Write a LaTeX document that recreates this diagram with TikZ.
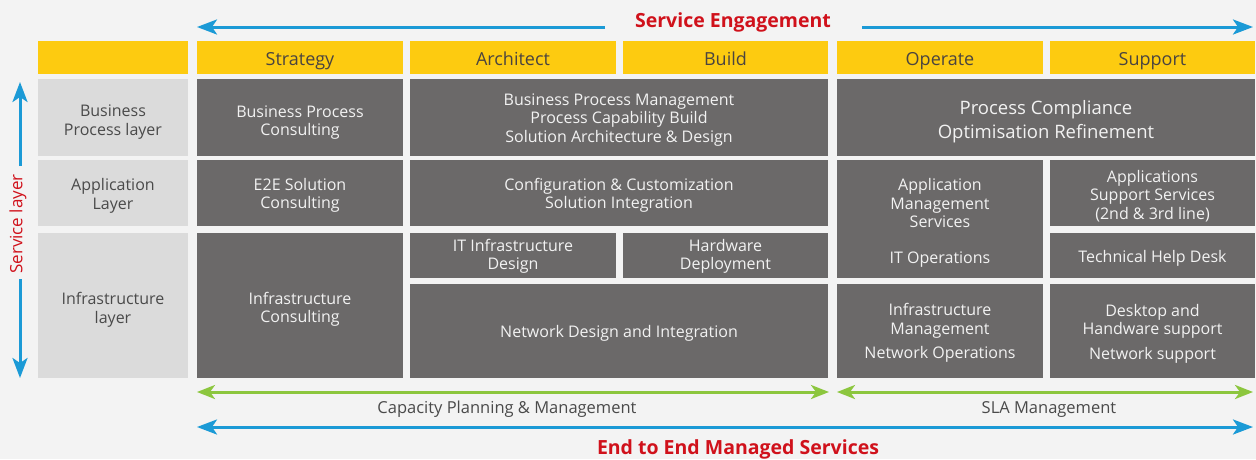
\documentclass[tikz,border=0pt]{standalone}
\usepackage{fontspec}
\setmainfont{Open Sans}
\usetikzlibrary{arrows.meta}
\definecolor{bg}{HTML}{F3F3F3}
\definecolor{yel}{HTML}{FDCB10}
\definecolor{dkg}{HTML}{6B6969}
\definecolor{lgy}{HTML}{DBDBDB}
\definecolor{hdtext}{HTML}{4A4440}
\definecolor{lbtext}{HTML}{4A4A4A}
\definecolor{dktext}{HTML}{F2F2F2}
\definecolor{blu}{HTML}{1B9AD6}
\definecolor{grn}{HTML}{8CC63E}
\definecolor{red}{HTML}{D0111B}
\newcommand\dn[1]{\rule{0pt}{#1pt}}
\begin{document}
\begin{tikzpicture}[x=1pt,y=-1pt,
  cell/.style={anchor=north west, inner sep=0pt, outer sep=0pt, align=center},
  hd/.style={cell, fill=yel, text=hdtext, font=\fontsize{18}{21}\selectfont, text height=16.5pt, text depth=0pt},
  lb/.style={cell, fill=lgy, text=lbtext, font=\fontsize{16}{19}\selectfont},
  dk/.style={cell, fill=dkg, text=dktext, font=\fontsize{16}{18.5}\selectfont},
  dkbig/.style={cell, fill=dkg, text=dktext, font=\fontsize{18.5}{24.5}\selectfont},
  bluearr/.style={draw=blu, line width=3pt, -{Stealth[length=20pt,width=15pt,inset=5pt]}},
  bluedbl/.style={draw=blu, line width=3pt, {Stealth[length=20pt,width=15pt,inset=5pt]}-{Stealth[length=20pt,width=15pt,inset=5pt]}},
  grndbl/.style={draw=grn, line width=3pt, {Stealth[length=18pt,width=14pt,inset=5pt]}-{Stealth[length=18pt,width=14pt,inset=5pt]}},
  redlbl/.style={text=red, font=\fontsize{19.5}{23}\selectfont\bfseries, inner sep=0pt},
  botlbl/.style={text=lbtext, font=\fontsize{16.5}{19}\selectfont, inner sep=0pt}
]
\useasboundingbox (0,0) rectangle (1256,459);
\fill[bg] (0,0) rectangle (1256,459);

% header row
\node[hd, minimum width=150pt, minimum height=33pt] (h0) at (38,41) {};
\node[hd, minimum width=206pt, minimum height=33pt] (hS) at (197,41) {Strategy};
\node[hd, minimum width=206pt, minimum height=33pt] (hA) at (410,41) {Architect};
\node[hd, minimum width=205pt, minimum height=33pt] (hB) at (623,41) {Build};
\node[hd, minimum width=206pt, minimum height=33pt] (hO) at (837,41) {Operate};
\node[hd, minimum width=205pt, minimum height=33pt] (hSu) at (1050,41) {Support};

% label column
\node[lb, minimum width=150pt, minimum height=77pt] (lBP) at (38,79) {\dn{21.5}Business\\Process layer};
\node[lb, minimum width=150pt, minimum height=66pt] (lApp) at (38,160) {\dn{17.2}Application\\Layer};
\node[lb, minimum width=150pt, minimum height=145pt] (lInf) at (38,233) {\dn{20.2}Infrastructure\\layer};

% strategy column
\node[dk, minimum width=206pt, minimum height=77pt] (sBP) at (197,79) {\dn{21.5}Business Process\\Consulting};
\node[dk, minimum width=206pt, minimum height=66pt] (sApp) at (197,160) {\dn{17.2}E2E Solution\\Consulting};
\node[dk, minimum width=206pt, minimum height=145pt] (sInf) at (197,233) {\dn{20.2}Infrastructure\\Consulting};

% architect + build
\node[dk, minimum width=418pt, minimum height=77pt] (abBP) at (410,79) {\dn{16.5}Business Process Management\\Process Capability Build\\Solution Architecture \& Design};
\node[dk, minimum width=418pt, minimum height=66pt] (abApp) at (410,160) {\dn{17.2}Configuration \& Customization\\Solution Integration};
\node[dk, minimum width=206pt, minimum height=45pt] (aInf) at (410,233) {\dn{14.2}IT Infrastructure\\Design};
\node[dk, minimum width=205pt, minimum height=45pt] (bInf) at (623,233) {\dn{14.2}Hardware\\Deployment};
\node[dk, minimum width=418pt, minimum height=94pt] (abNet) at (410,284) {\dn{16.2}Network Design and Integration};

% operate + support
\node[dkbig, minimum width=418pt, minimum height=77pt] (osBP) at (837,79) {\dn{22}Process Compliance\\Optimisation Refinement};
\node[dk, minimum width=206pt, minimum height=118pt] (oApp) at (837,160) {\dn{20}Application\\Management\\Services\\[17pt]IT Operations};
\node[dk, minimum width=205pt, minimum height=66pt] (suApp) at (1050,160) {\dn{18.2}Applications\\Support Services\\(2nd \& 3rd line)};
\node[dk, minimum width=205pt, minimum height=45pt] (suHelp) at (1050,233) {\dn{18.2}Technical Help Desk};
\node[dk, minimum width=206pt, minimum height=94pt] (oInf) at (837,284) {\dn{16.2}Infrastructure\\Management\\[6pt]Network Operations};
\node[dk, minimum width=205pt, minimum height=94pt] (suInf) at (1050,284) {\dn{17.2}Desktop and\\Handware support\\[6pt]Network support};

% top arrow
\node[redlbl] (se) at (733,22) {Service Engagement};
\coordinate (seA) at (605,27);
\coordinate (seB) at (197,27);
\coordinate (seC) at (862,27);
\coordinate (seD) at (1253,27);
\draw[bluearr] (seA) -- (seB);
\draw[bluearr] (seC) -- (seD);

% vertical arrow
\node[text=red, font=\fontsize{17}{20}\selectfont, rotate=90, inner sep=0pt] (sl) at (18,224) {Service layer};
\coordinate (slA) at (20,166);
\coordinate (slB) at (20,82);
\coordinate (slC) at (20,279);
\coordinate (slD) at (20,378);
\draw[bluearr] (slA) -- (slB);
\draw[bluearr] (slC) -- (slD);

% green arrows
\coordinate (gA) at (197,392);
\coordinate (gB) at (829,392);
\coordinate (gC) at (837,392);
\coordinate (gD) at (1253,392);
\draw[grndbl] (gA) -- (gB);
\draw[grndbl] (gC) -- (gD);
\node[botlbl] (cap) at (507,409) {Capacity Planning \& Management};
\node[botlbl] (sla) at (1049,409) {SLA Management};

% bottom arrow
\coordinate (bA) at (197,427);
\coordinate (bB) at (1253,427);
\draw[bluedbl] (bA) -- (bB);
\node[redlbl] (e2e) at (738,449) {End to End Managed Services};
\end{tikzpicture}
\end{document}
